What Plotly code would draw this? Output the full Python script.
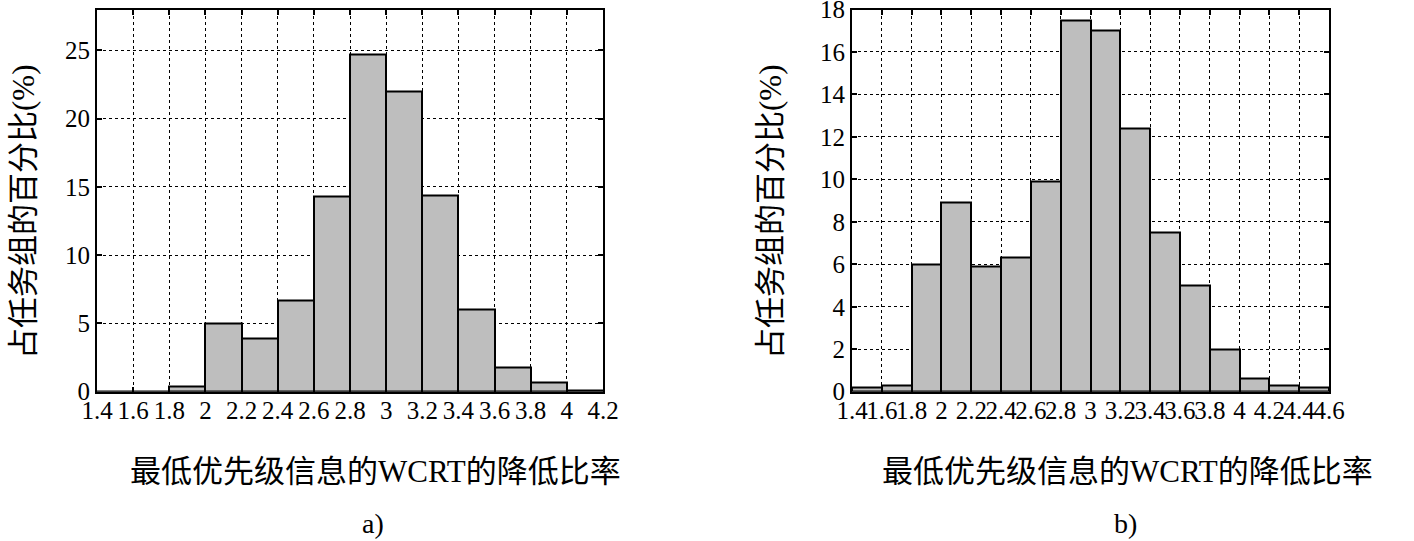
import plotly.graph_objects as go

# ---- data ----
bin_start_a = [1.4, 1.6, 1.8, 2.0, 2.2, 2.4, 2.6, 2.8, 3.0, 3.2, 3.4, 3.6, 3.8, 4.0]
pct_a = [0, 0, 0.35, 5.0, 3.9, 6.7, 14.3, 24.7, 22.0, 14.4, 6.0, 1.75, 0.65, 0.1]

bin_start_b = [1.4, 1.6, 1.8, 2.0, 2.2, 2.4, 2.6, 2.8, 3.0, 3.2, 3.4, 3.6, 3.8, 4.0, 4.2, 4.4]
pct_b = [0.2, 0.3, 6.0, 8.9, 5.9, 6.3, 9.9, 17.5, 17.0, 12.4, 7.5, 5.0, 2.0, 0.6, 0.3, 0.2]

xticks_a = [1.4, 1.6, 1.8, 2.0, 2.2, 2.4, 2.6, 2.8, 3.0, 3.2, 3.4, 3.6, 3.8, 4.0, 4.2]
xticklabels_a = ["1.4", "1.6", "1.8", "2", "2.2", "2.4", "2.6", "2.8", "3", "3.2", "3.4", "3.6", "3.8", "4", "4.2"]
xticks_b = [1.4, 1.6, 1.8, 2.0, 2.2, 2.4, 2.6, 2.8, 3.0, 3.2, 3.4, 3.6, 3.8, 4.0, 4.2, 4.4, 4.6]
xticklabels_b = ["1.4", "1.6", "1.8", "2", "2.2", "2.4", "2.6", "2.8", "3", "3.2", "3.4", "3.6", "3.8", "4", "4.2", "4.4", "4.6"]
yticks_a = [0, 5, 10, 15, 20, 25]
yticks_b = [0, 2, 4, 6, 8, 10, 12, 14, 16, 18]

x_title = "最低优先级信息的WCRT的降低比率"
y_title = "占任务组的百分比(%)"
labels = ["a)", "b)"]

BIN_W = 0.2
FONT = "Liberation Serif, 'Times New Roman', 'Noto Sans CJK SC', serif"
W, H = 1414, 541

fig = go.Figure()
fig.add_trace(go.Bar(x=[s + BIN_W / 2 for s in bin_start_a], y=pct_a, width=BIN_W,
                     marker=dict(color="#bebebe", line=dict(color="black", width=2)),
                     xaxis="x", yaxis="y", showlegend=False))
fig.add_trace(go.Bar(x=[s + BIN_W / 2 for s in bin_start_b], y=pct_b, width=BIN_W,
                     marker=dict(color="#bebebe", line=dict(color="black", width=2)),
                     xaxis="x2", yaxis="y2", showlegend=False))

common_axis = dict(showline=True, linecolor="black", linewidth=2, mirror="allticks",
                   ticks="inside", ticklen=5, tickcolor="black", tickwidth=1.5,
                   showgrid=True, gridcolor="black", gridwidth=1, griddash="dot",
                   zeroline=False, tickfont=dict(family=FONT, size=25, color="black"),
                   tickangle=0, automargin=False)

ydom = [1 - 391.7 / H, 1 - 9.5 / H]
fig.update_layout(
    width=W, height=H,
    margin=dict(l=0, r=0, t=0, b=0),
    plot_bgcolor="white", paper_bgcolor="white",
    bargap=0,
    xaxis=dict(domain=[97 / W, 603 / W], range=[1.4, 4.2], tickvals=xticks_a,
               ticktext=xticklabels_a, anchor="y", ticklabelstandoff=-5, **common_axis),
    yaxis=dict(domain=ydom, range=[0, 28], tickvals=yticks_a, anchor="x", **common_axis),
    xaxis2=dict(domain=[852 / W, 1329 / W], range=[1.4, 4.6], tickvals=xticks_b,
                ticktext=xticklabels_b, anchor="y2", ticklabelstandoff=-5, **common_axis),
    yaxis2=dict(domain=ydom, range=[0, 18], tickvals=yticks_b, anchor="x2", **common_axis),
)

ann_font = dict(family=FONT, size=31, color="black")
for cx, ycx, lab in [(375, 23, labels[0]), (1127, 770, labels[1])]:
    fig.add_annotation(x=cx / W, y=1 - 471 / H, xref="paper", yref="paper",
                       text=x_title, showarrow=False, font=ann_font,
                       xanchor="center", yanchor="middle")
    fig.add_annotation(x=(cx - 2) / W, y=1 - 523 / H, xref="paper", yref="paper",
                       text=lab, showarrow=False, font=dict(family=FONT, size=28, color="black"),
                       xanchor="center", yanchor="middle")
    fig.add_annotation(x=ycx / W, y=1 - 212 / H, xref="paper", yref="paper",
                       text=y_title, showarrow=False, font=ann_font, textangle=-90,
                       xanchor="center", yanchor="middle")

fig.write_html("out.html", config={"displayModeBar": False},
               post_script="document.body.style.margin='0';document.body.style.overflow='hidden';")
